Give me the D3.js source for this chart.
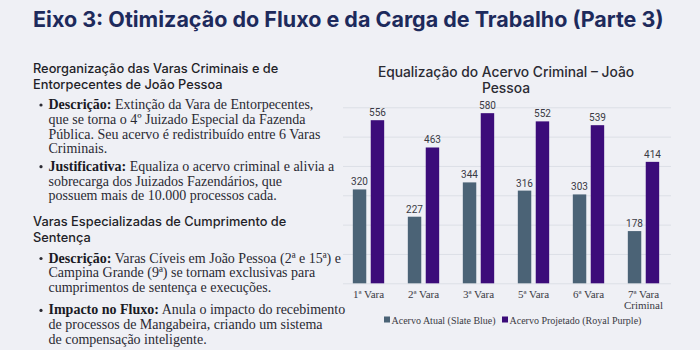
<!DOCTYPE html>
<html>
<head>
<meta charset="utf-8">
<script src="https://cdn.jsdelivr.net/npm/d3@7"></script>
<style>
  html, body { margin: 0; padding: 0; background: #eff0f5; }
  svg { display: block; }
</style>
</head>
<body>
<svg id="slide" width="700" height="350"></svg>
<script>
// ---- chart data ----
const categories = ["1ª Vara", "2ª Vara", "3ª Vara", "5ª Vara", "6ª Vara", "7ª Vara\nCriminal"];
const acervoAtual = [320, 227, 344, 316, 303, 178];
const acervoProjetado = [556, 463, 580, 552, 539, 414];
const seriesNames = ["Acervo Atual (Slate Blue)", "Acervo Projetado (Royal Purple)"];
const yTicks = [0, 100, 200, 300, 400, 500, 600];

// ---- slide text ----
const slideTitle = "Eixo 3: Otimização do Fluxo e da Carga de Trabalho (Parte 3)";
const chartTitle = ["Equalização do Acervo Criminal – João", "Pessoa"];
const section1Heading = ["Reorganização das Varas Criminais e de", "Entorpecentes de João Pessoa"];
const section1Bullets = [
  [[["Descrição:", true], [" Extinção da Vara de Entorpecentes,", false]],
   [["que se torna o 4º Juizado Especial da Fazenda", false]],
   [["Pública. Seu acervo é redistribuído entre 6 Varas", false]],
   [["Criminais.", false]]],
  [[["Justificativa:", true], [" Equaliza o acervo criminal e alivia a", false]],
   [["sobrecarga dos Juizados Fazendários, que", false]],
   [["possuem mais de 10.000 processos cada.", false]]]
];
const section2Heading = ["Varas Especializadas de Cumprimento de", "Sentença"];
const section2Bullets = [
  [[["Descrição:", true], [" Varas Cíveis em João Pessoa (2ª e 15ª) e", false]],
   [["Campina Grande (9ª) se tornam exclusivas para", false]],
   [["cumprimentos de sentença e execuções.", false]]],
  [[["Impacto no Fluxo:", true], [" Anula o impacto do recebimento", false]],
   [["de processos de Mangabeira, criando um sistema", false]],
   [["de compensação inteligente.", false]]]
];

const colors = ["#4b6376", "#3c0c7a"];
const serif = "'Liberation Serif', 'DejaVu Serif', serif";
const sans = "Inter, 'Open Sans', sans-serif";

const svg = d3.select("#slide");

// ---- slide title ----
svg.append("text")
  .attr("x", 33).attr("y", 27)
  .attr("font-family", sans).attr("font-weight", 700)
  .attr("font-size", 21.5).attr("fill", "#1d2a5c")
  .text(slideTitle);

// ---- left column: headings and bullet lists ----
function heading(lines, y0) {
  const t = svg.append("text")
    .attr("font-family", sans).attr("font-weight", 500)
    .attr("font-size", 12.8).attr("fill", "#1f1f28");
  lines.forEach((l, i) => {
    t.append("tspan").attr("x", 33).attr("y", y0 + i * 16).text(l);
  });
}
function bullets(items, y0, gap) {
  let y = y0;
  items.forEach(item => {
    svg.append("circle").attr("cx", 41).attr("cy", y - 4).attr("r", 1.6).attr("fill", "#2a2a33");
    item.forEach(line => {
      const t = svg.append("text").attr("x", 48.5).attr("y", y)
        .attr("font-family", serif).attr("font-size", 14).attr("fill", "#2a2a33");
      line.forEach(([s, b]) => {
        t.append("tspan").attr("font-weight", b ? 700 : 400)
          .attr("fill", b ? "#1a1a24" : "#2a2a33").text(s);
      });
      y += 14.8;
    });
    y += gap;
  });
}
heading(section1Heading, 73);
bullets(section1Bullets, 109, 2.5);
heading(section2Heading, 226);
bullets(section2Bullets, 262.5, 7.5);

// ---- right column: grouped bar chart ----
const plot = { left: 341, right: 671, top: 107.3, bottom: 283.3 };

svg.append("g").selectAll("text")
  .data(chartTitle).join("text")
  .attr("x", 506).attr("y", (d, i) => 76.5 + i * 16.5)
  .attr("text-anchor", "middle")
  .attr("font-family", sans).attr("font-weight", 500)
  .attr("font-size", 13.8).attr("fill", "#2b2b33")
  .text(d => d);

const y = d3.scaleLinear().domain([0, 600]).range([plot.bottom, plot.top]);
const x0 = d3.scaleBand().domain(categories).range([plot.left, plot.right]);
const x1 = d3.scaleBand().domain(seriesNames)
  .range([x0.bandwidth() * 0.215, x0.bandwidth() * 0.785]).paddingInner(0.25);

// horizontal gridlines
const yAxis = d3.axisLeft(y).tickValues(yTicks).tickSize(-(plot.right - plot.left)).tickFormat("");
const gy = svg.append("g").attr("transform", `translate(${plot.left + 2},0)`).call(yAxis);
gy.select(".domain").remove();
gy.selectAll(".tick line").attr("stroke", "#dcdfe6").attr("stroke-width", 1)
  .attr("x2", plot.right - plot.left - 2);

const rows = categories.map((c, i) => ({ cat: c, vals: [acervoAtual[i], acervoProjetado[i]] }));

const groups = svg.append("g").selectAll("g")
  .data(rows).join("g")
  .attr("transform", d => `translate(${x0(d.cat)},0)`);

groups.selectAll("rect")
  .data(d => d.vals.map((v, k) => ({ v, k })))
  .join("rect")
  .attr("x", d => x1(seriesNames[d.k]))
  .attr("width", x1.bandwidth())
  .attr("y", d => y(d.v))
  .attr("height", d => y(0) - y(d.v))
  .attr("fill", d => colors[d.k]);

groups.selectAll("text.val")
  .data(d => d.vals.map((v, k) => ({ v, k })))
  .join("text").attr("class", "val")
  .attr("x", d => x1(seriesNames[d.k]) + x1.bandwidth() / 2)
  .attr("y", d => y(d.v) - 4)
  .attr("text-anchor", "middle")
  .attr("font-family", "Roboto, 'Open Sans', sans-serif")
  .attr("font-size", 10).attr("fill", "#3a3a44")
  .text(d => d.v);

// category labels (x axis)
const xAxis = d3.axisBottom(x0).tickSize(0).tickFormat("");
const gx = svg.append("g").attr("transform", `translate(0,${plot.bottom})`).call(xAxis);
gx.select(".domain").remove();
gx.selectAll(".tick").each(function (d) {
  const t = d3.select(this).append("text")
    .attr("text-anchor", "middle")
    .attr("font-family", serif).attr("font-size", 11).attr("fill", "#3a3a44");
  d.split("\n").forEach((part, i) => {
    t.append("tspan").attr("x", 0).attr("y", 15 + i * 10.5).text(part);
  });
});

// legend
const legendX = [384, 502];
const legend = svg.append("g").selectAll("g")
  .data(seriesNames).join("g")
  .attr("transform", (d, i) => `translate(${legendX[i]},320)`);
legend.append("rect").attr("x", 0).attr("y", -3.5).attr("width", 6).attr("height", 6)
  .attr("fill", (d, i) => colors[i]);
legend.append("text").attr("x", 7.5).attr("y", 3.5)
  .attr("font-family", serif).attr("font-size", 10).attr("fill", "#3a3a44")
  .text(d => d);
</script>
</body>
</html>
